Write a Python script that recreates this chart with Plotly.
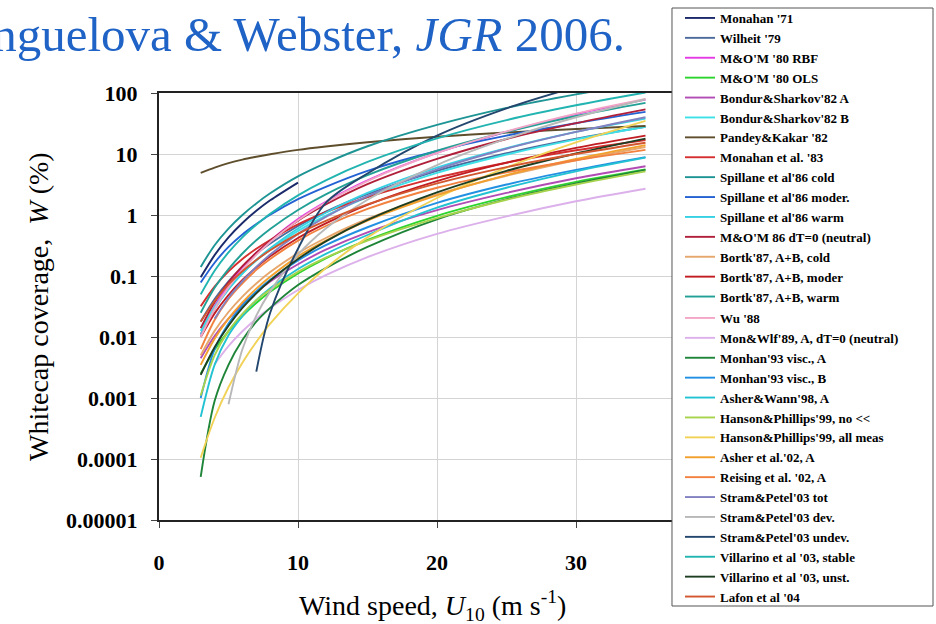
import plotly.graph_objects as go

# Wind speed grid (m/s)
U10 = [3, 4, 5, 6, 7, 8, 10, 12, 15, 20, 25, 30, 35]

# Whitecap coverage W (%) (None = curve not drawn there)
monahan_71 = [0.095, 0.22, 0.43, 0.74, 1.17, 1.74, 3.4, None, None, None, None, None, None]
wilheit_79 = [0.018, 0.042, 0.082, 0.14, 0.23, 0.34, 0.66, 1.14, 2.2, 5.3, 10.3, 17.8, 28]
mom80_rbf = [0.011, 0.032, 0.071, 0.14, 0.24, 0.38, 0.86, 1.65, 3.7, 10.4, 23, 45, 78]
mom80_ols = [0.0025, 0.0062, 0.0125, 0.022, 0.036, 0.055, 0.11, 0.195, 0.39, 0.97, 1.96, 3.5, 5.6]
bondur_a = [0.0045, 0.0104, 0.020, 0.0345, 0.054, 0.081, 0.156, 0.27, 0.52, 1.2, 2.3, 4.0, 6.3]
bondur_b = [0.0126, 0.031, 0.063, 0.111, 0.18, 0.27, 0.55, 0.98, 1.97, 4.9, 9.8, 17.4, 28]
pandey_82 = [4.9, 6.0, 7.1, 8.1, 9.0, 9.9, 11.7, 13.3, 15.6, 19.2, 22.5, 25.7, 28.7]
monahan_83 = [0.032, 0.067, 0.119, 0.19, 0.28, 0.39, 0.70, 1.11, 1.96, 4.1, 7.2, 11.5, 17]
spill_cold = [0.141, 0.32, 0.60, 1.0, 1.55, 2.27, 4.3, 7.1, 13.4, 30, 57, 95, 148]
spill_moder = [0.078, 0.165, 0.30, 0.48, 0.71, 1.01, 1.82, 2.9, 5.3, 11.2, 20, 32, 49]
spill_warm = [0.011, 0.0285, 0.06, 0.109, 0.183, 0.284, 0.60, 1.09, 2.3, 6.0, 12.5, 23, 38]
mom86 = [0.014, 0.037, 0.079, 0.145, 0.24, 0.38, 0.81, 1.49, 3.2, 8.3, 17.6, 32, 54]
bortk_cold = [0.005, 0.0126, 0.0257, 0.046, 0.0755, 0.116, 0.237, 0.42, 0.86, 2.17, 4.4, 7.9, 13]
bortk_moder = [0.01, 0.0244, 0.0488, 0.086, 0.138, 0.21, 0.42, 0.73, 1.47, 3.6, 7.2, 12.6, 20]
bortk_warm = [0.025, 0.064, 0.13, 0.234, 0.385, 0.59, 1.21, 2.18, 4.5, 11.3, 23, 42, 69]
wu_88 = [0.01, 0.0287, 0.065, 0.126, 0.222, 0.362, 0.82, 1.6, 3.6, 10.4, 23.5, 46, 80]
monwlf_89 = [None, 0.0036, 0.0071, 0.0124, 0.02, 0.0298, 0.059, 0.103, 0.204, 0.49, 0.95, 1.68, 2.7]
monhan93_a = [0.000051, 0.00089, 0.0035, 0.0089, 0.0178, 0.030, 0.071, 0.135, 0.30, 0.85, 1.82, 3.3, 5.5]
monhan93_b = [0.001, 0.0063, 0.0166, 0.033, 0.056, 0.087, 0.18, 0.32, 0.63, 1.58, 3.16, 5.5, 8.9]
asher_wann_98 = [0.00049, 0.0035, 0.0107, 0.022, 0.04, 0.063, 0.13, 0.23, 0.47, 1.32, 2.8, 5.2, 8.7]
hp99_no = [0.0011, 0.005, 0.0126, 0.024, 0.04, 0.06, 0.117, 0.2, 0.38, 0.89, 1.78, 3.16, 5.2]
hp99_all = [0.000105, 0.00047, 0.0015, 0.0038, 0.0083, 0.0166, 0.052, 0.135, 0.43, 1.9, 6.0, 15.5, 35]
asher_02 = [0.0035, 0.0094, 0.02, 0.037, 0.062, 0.097, 0.21, 0.38, 0.81, 2.1, 4.5, 8.3, 14]
reising_02 = [0.0063, 0.019, 0.042, 0.076, 0.126, 0.19, 0.38, 0.66, 1.26, 2.8, 5.0, 7.9, 11.7]
stram_tot = [None, 0.02, 0.044, 0.082, 0.141, 0.225, 0.49, 0.93, 2.04, 5.6, 12.2, 23, 40]
stram_dev = [None, None, 0.00079, 0.0063, 0.0224, 0.056, 0.224, 0.60, 1.78, 6.6, 17.8, 40, 79]
stram_undev = [None, None, None, None, 0.0027, 0.025, 0.28, 1.58, 4.8, 20, 56, 126, None]
vill_stable = [0.05, 0.122, 0.244, 0.43, 0.69, 1.05, 2.1, 3.7, 7.4, 18, 36, 63, 102]
vill_unst = [0.0024, 0.0068, 0.0153, 0.030, 0.052, 0.084, 0.19, 0.37, 0.83, 2.35, 5.3, 10.2, 17.9]
lafon_04 = [0.0178, 0.039, 0.073, 0.12, 0.183, 0.264, 0.49, 0.8, 1.49, 3.3, 6.1, 10, 15.3]

names = [
    "Monahan '71", "Wilheit '79", "M&O'M '80 RBF", "M&O'M '80 OLS",
    "Bondur&Sharkov'82 A", "Bondur&Sharkov'82 B", "Pandey&Kakar '82",
    "Monahan et al. '83", "Spillane et al'86 cold", "Spillane et al'86 moder.",
    "Spillane et al'86 warm", "M&O'M 86 dT=0 (neutral)", "Bortk'87, A+B, cold",
    "Bortk'87, A+B, moder", "Bortk'87, A+B, warm", "Wu '88",
    "Mon&Wlf'89, A, dT=0 (neutral)", "Monhan'93 visc., A", "Monhan'93 visc., B",
    "Asher&Wann'98, A", "Hanson&Phillips'99, no &lt;&lt;",
    "Hanson&Phillips'99, all meas", "Asher et al.'02, A", "Reising et al. '02, A",
    "Stram&Petel'03 tot", "Stram&Petel'03 dev.", "Stram&Petel'03 undev.",
    "Villarino et al '03, stable", "Villarino et al '03, unst.", "Lafon et al '04",
]
values = [
    monahan_71, wilheit_79, mom80_rbf, mom80_ols, bondur_a, bondur_b, pandey_82,
    monahan_83, spill_cold, spill_moder, spill_warm, mom86, bortk_cold,
    bortk_moder, bortk_warm, wu_88, monwlf_89, monhan93_a, monhan93_b,
    asher_wann_98, hp99_no, hp99_all, asher_02, reising_02, stram_tot,
    stram_dev, stram_undev, vill_stable, vill_unst, lafon_04,
]
colors = [
    "#1b2a6b", "#4d6a9c", "#e43ae4", "#2ed42e", "#b04cb4", "#3ee0e8", "#5e4e2c",
    "#d42e2e", "#1e9494", "#2462d4", "#36d2e4", "#b0203a", "#e6a66c",
    "#c01c22", "#22a096", "#f2a6c6", "#dcb0ea", "#1e8438", "#2290e2",
    "#22c2d2", "#a6d24c", "#f2d256", "#f2a02c", "#f2803e", "#8282c2",
    "#b8b8b8", "#22466e", "#22b4b0", "#1e3e22", "#d2562e",
]

y_tickvals = [0.00001, 0.0001, 0.001, 0.01, 0.1, 1, 10, 100]
y_ticktext = ["0.00001", "0.0001", "0.001", "0.01", "0.1", "1", "10", "100"]
x_tickvals = [0, 10, 20, 30]

SERIF = "Liberation Serif, Times New Roman, serif"
LEG_FONT = dict(family=SERIF, size=13, color="black", weight="bold")

fig = go.Figure()
for i, (nm, col, vals) in enumerate(zip(names, colors, values)):
    fig.add_trace(go.Scatter(
        x=U10, y=vals, mode="lines", name=nm,
        legend="legend" if i < 15 else "legend2",
        line=dict(color=col, width=1.9, shape="spline", smoothing=0.9),
    ))

leg_common = dict(
    xref="paper", x=0.93705, xanchor="left", yref="container", yanchor="top",
    bgcolor="rgba(0,0,0,0)", borderwidth=0, font=LEG_FONT,
    itemwidth=30, tracegroupgap=0,
)

fig.update_layout(
    width=936, height=624,
    margin=dict(l=159, r=221, t=93, b=104, autoexpand=False),
    paper_bgcolor="white", plot_bgcolor="white",
    font=dict(family=SERIF, color="black"),
    showlegend=True,
    legend=dict(y=1 - 3 / 624, **leg_common),
    legend2=dict(y=1 - 303 / 624, **leg_common),
    title=dict(
        text="Anguelova &amp; Webster, <i>JGR</i> 2006.",
        xref="container", x=625 / 936, xanchor="right",
        yref="container", y=1 - 33.5 / 624, yanchor="middle",
        font=dict(family=SERIF, size=49, color="#1f63c6"),
    ),
    xaxis=dict(
        range=[0, 40], tickvals=x_tickvals, ticktext=[str(v) for v in x_tickvals],
        showgrid=True, gridcolor="#d4d4d4", gridwidth=1,
        showline=True, linecolor="#222222", linewidth=2, mirror=True,
        ticks="outside", ticklen=6, tickcolor="#444444", tickwidth=1,
        tickfont=dict(family=SERIF, size=22, color="black", weight="bold"),
        ticklabelstandoff=16, zeroline=False, automargin=False,
    ),
    yaxis=dict(
        type="log", range=[-5, 2], tickvals=y_tickvals, ticktext=y_ticktext,
        showgrid=True, gridcolor="#d4d4d4", gridwidth=1,
        showline=True, linecolor="#222222", linewidth=2, mirror=True,
        ticks="outside", ticklen=6, tickcolor="#444444", tickwidth=1,
        tickfont=dict(family=SERIF, size=22, color="black", weight="bold"),
        ticklabelstandoff=9, automargin=False,
    ),
    shapes=[
        dict(type="rect", xref="paper", yref="paper",
             x0=0.92266, x1=1.39209, y0=-0.20141, y1=1.19906,
             fillcolor="white", line=dict(color="#555555", width=1), layer="above"),
    ],
    annotations=[
        dict(text="Whitecap coverage,  <i>W</i> (%)",
             xref="paper", yref="paper", x=-0.2167, y=0.5,
             xanchor="center", yanchor="middle", textangle=-90, showarrow=False,
             font=dict(family=SERIF, size=28, color="black")),
        dict(text="Wind speed, <i>U</i><sub>10</sub> (m s<sup>-1</sup>)",
             xref="paper", yref="paper", x=0.4928, y=-0.2014,
             xanchor="center", yanchor="middle", showarrow=False,
             font=dict(family=SERIF, size=28, color="black")),
    ],
)

fig.write_html("out.html", config={"displayModeBar": False},
               post_script="document.body.style.margin='0';")
